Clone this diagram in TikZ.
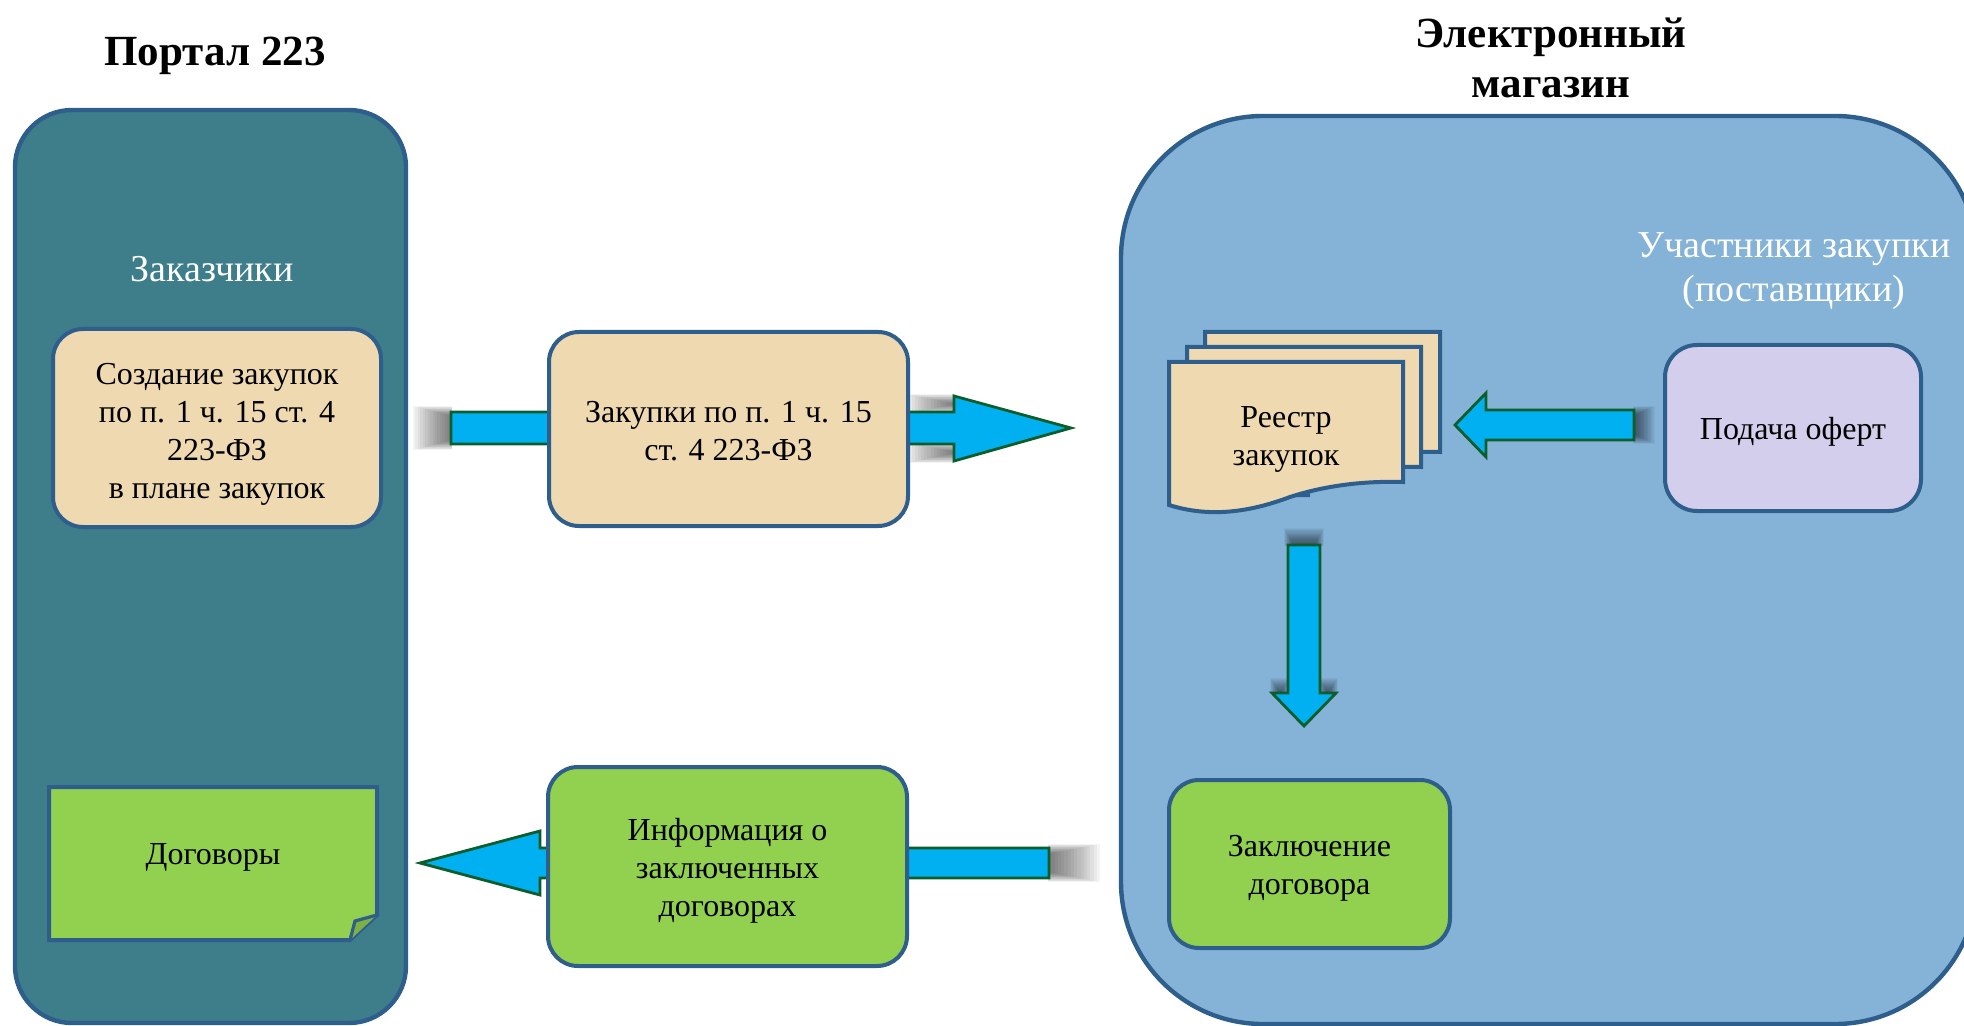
\documentclass[tikz,border=0pt]{standalone}
\usepackage{fontspec}
\setmainfont{Liberation Serif}
\usetikzlibrary{calc}
\definecolor{tealc}{HTML}{3E7D8A}
\definecolor{bluep}{HTML}{85B3D8}
\definecolor{edgec}{HTML}{2E5E8C}
\definecolor{wheatc}{HTML}{EFD9B0}
\definecolor{lavc}{HTML}{D2CEEC}
\definecolor{greenc}{HTML}{92D050}
\definecolor{arrfill}{HTML}{00B0F0}
\definecolor{arredge}{HTML}{0B5E2B}
% soft shadows: stacked translucent rectangles, darkest at the given side
\newcommand\shadowR[4]{\foreach \i in {0,...,15}{\fill[black,opacity=0.045] ({#1+(#3-#1)*\i/16},{#2+\i*0.65}) rectangle (#3,{#4-\i*0.65});}}
\newcommand\shadowL[4]{\foreach \i in {0,...,15}{\fill[black,opacity=0.045] (#1,{#2+\i*0.65}) rectangle ({#3-(#3-#1)*\i/16},{#4-\i*0.65});}}
\newcommand\shadowD[4]{\foreach \i in {0,...,15}{\fill[black,opacity=0.045] ({#1+\i*0.65},{#2+(#4-#2)*\i/16}) rectangle ({#3-\i*0.65},#4);}}
\newcommand\dn[1]{\rule{0pt}{#1pt}}
\begin{document}
\begin{tikzpicture}[x=0.5pt,y=-0.5pt,
  panel/.style={draw=edgec, line width=2.2pt, inner sep=0pt},
  box/.style={draw=edgec, line width=2pt, rounded corners=15pt, align=center,
    inner sep=0pt, font=\fontsize{16}{19}\selectfont},
  btext/.style={align=center, inner sep=0pt, font=\fontsize{16}{19}\selectfont},
  title/.style={align=center, inner sep=0pt, font=\fontsize{21.5}{25}\selectfont\bfseries},
  wlabel/.style={align=center, inner sep=0pt, text=white, font=\fontsize{19}{22}\selectfont},
  barrow/.style={fill=arrfill, draw=arredge, line width=1.4pt, line join=miter},
  docshape/.style={draw=edgec, line width=2pt, line join=miter}]
\useasboundingbox (0,0) rectangle (1964,1026);

% titles
\node[title, anchor=base] (t1) at (215,66) {Портал 223};
\node[title] (t2) at (1551,58) {Электронный\\магазин};

% panels
\node[panel, fill=tealc, rounded corners=28.5pt, minimum width=195.5pt, minimum height=456.5pt] (portal) at (210.5,566.5) {};
\node[panel, fill=bluep, rounded corners=71pt, minimum width=428pt, minimum height=454pt] (shop) at (1549,570) {};

\node[wlabel, anchor=base] (cust) at (212,282) {Заказчики};
\node[wlabel] (part) at (1794,271) {Участники закупки\\(поставщики)};

% ---- shadows of block arrows
\shadowR{413}{406}{452}{450}
\shadowR{906}{394}{955}{414}
\shadowR{906}{442}{955}{463}
\shadowL{1048}{844}{1100}{882}
\shadowL{1633}{406}{1655}{444}
\shadowD{1284}{528}{1324}{546}
\shadowD{1270}{678}{1290}{694}
\shadowD{1318}{678}{1338}{694}

% ---- named ends of the block arrows
\coordinate (a1tail) at (451,428);
\coordinate (a1tip) at (1071,428);
\coordinate (a2tail) at (1634,425);
\coordinate (a2tip) at (1455,425);
\coordinate (a3tail) at (1304,545);
\coordinate (a3tip) at (1304,726);
\coordinate (a4tail) at (1049,863);
\coordinate (a4tip) at (420,863);

% top arrow (behind box 2)
\draw[barrow] ($(a1tail)+(0,-16)$) -- (954,412) -- (954,396) -- (a1tip) -- (954,461) -- (954,444) -- ($(a1tail)+(0,16)$) -- cycle;
% bottom arrow (behind info box)
\draw[barrow] ($(a4tail)+(0,-15)$) -- (540,848) -- (540,831) -- (a4tip) -- (540,895) -- (540,878) -- ($(a4tail)+(0,15)$) -- cycle;

% boxes
\node[box, fill=wheatc, minimum width=164pt, minimum height=99pt] (create) at (217,428)
  {\dn{16.5}Создание закупок\\по п. 1 ч. 15 ст. 4\\223-ФЗ\\ в плане закупок};
\node[box, fill=wheatc, minimum width=179.5pt, minimum height=97pt] (purch) at (728.5,429)
  {\dn{12.5}Закупки по п. 1 ч. 15\\ст. 4 223-ФЗ};
\node[box, fill=greenc, minimum width=179.5pt, minimum height=99.5pt] (info) at (727.5,866.5)
  {\dn{15}Информация о\\заключенных\\договорах};
\node[box, fill=lavc, rounded corners=16pt, minimum width=128pt, minimum height=83pt] (offer) at (1793,428)
  {\dn{15}Подача оферт};
\node[box, fill=greenc, minimum width=140.5pt, minimum height=84pt] (contract) at (1309.5,864)
  {\dn{15}Заключение\\договора};

% Договоры: note with folded corner
\draw[docshape, fill=greenc] (49,787) -- (377,787) -- (377,915) -- (350,940) -- (49,940) -- cycle;
\draw[docshape, fill=greenc!85!black, line width=1.6pt] (377,915) -- (355,921) -- (350,940);
\node[btext] (dog) at (213,857) {Договоры};

% Реестр закупок: multi-document
\draw[docshape, fill=wheatc] (1205,332) -- (1440,332) -- (1440,452) .. controls (1406,451) and (1366,454) .. (1326,467) -- (1326,480) -- (1205,480) -- cycle;
\draw[docshape, fill=wheatc] (1187,347) -- (1421,347) -- (1421,467) .. controls (1388,466) and (1348,469) .. (1308,482) -- (1308,495) -- (1187,495) -- cycle;
\draw[docshape, fill=wheatc] (1169,362) -- (1403,362) -- (1403,482) .. controls (1370,481) and (1330,484) .. (1290,497) .. controls (1250,512) and (1210,518) .. (1169,505) -- cycle;
\node[btext] (reg) at (1286,439) {Реестр\\закупок};

% left arrow: offers -> registry
\draw[barrow] ($(a2tail)+(0,-15)$) -- (1486,410) -- (1486,393) -- (a2tip) -- (1486,457) -- (1486,440) -- ($(a2tail)+(0,15)$) -- cycle;
% down arrow: registry -> contract
\draw[barrow] ($(a3tail)+(-16,0)$) -- (1288,693) -- (1272,693) -- (a3tip) -- (1336,693) -- (1320,693) -- ($(a3tail)+(16,0)$) -- cycle;
\end{tikzpicture}
\end{document}
